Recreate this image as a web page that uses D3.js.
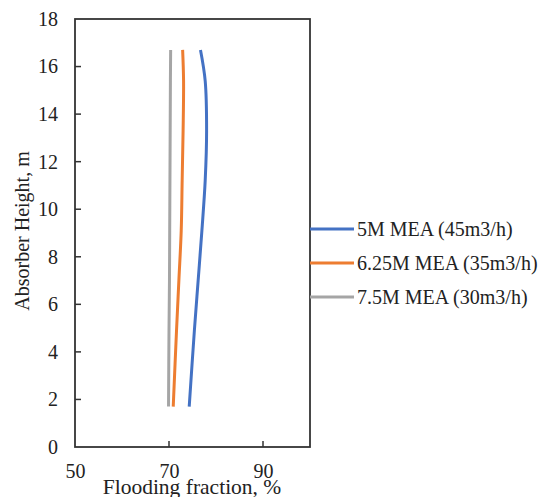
<!DOCTYPE html>
<html><head><meta charset="utf-8">
<script src="https://cdn.jsdelivr.net/npm/d3@7"></script>
<style>body{margin:0;background:#fff}svg{display:block}</style>
</head><body>
<svg id="c" width="541" height="497"></svg>
<script>
const heights = [1.7, 4.9, 7.0, 9.1, 11.2, 13.3, 15.4, 16.7];
const blue = [74.3, 75.4, 76.2, 77.0, 77.7, 78.0, 77.7, 76.7];
const orange = [70.9, 71.6, 72.1, 72.6, 72.8, 73.0, 73.1, 72.9];
const gray = [69.9, 70.0, 70.1, 70.15, 70.2, 70.25, 70.3, 70.35];
const seriesNames = ["5M MEA (45m3/h)", "6.25M MEA (35m3/h)", "7.5M MEA (30m3/h)"];
const colors = ["#4472C4", "#ED7D31", "#A5A5A5"];
const xTicks = [50, 70, 90];
const yTicks = [0, 2, 4, 6, 8, 10, 12, 14, 16, 18];

const svg = d3.select("#c");
const m = {l: 75, r: 310, t: 19, b: 447};
const x = d3.scaleLinear().domain([50, 100]).range([m.l, m.r]);
const y = d3.scaleLinear().domain([0, 18]).range([m.b, m.t]);
const font = "'Liberation Serif', 'Times New Roman', serif";
const axisColor = "#333";
const textColor = "#222";

// box
svg.append("rect").attr("x", m.l).attr("y", m.t).attr("width", m.r - m.l).attr("height", m.b - m.t)
  .attr("fill", "none").attr("stroke", axisColor).attr("stroke-width", 1.8);

// y axis (labels), inward ticks drawn separately
const ya = svg.append("g").attr("transform", `translate(${m.l},0)`)
  .call(d3.axisLeft(y).tickValues(yTicks).tickSize(0).tickPadding(17));
ya.select(".domain").remove();
ya.selectAll("text").attr("font-family", font).attr("font-size", 20).attr("fill", textColor);
svg.selectAll(".yt").data(yTicks.filter(d => d > 0 && d < 18)).enter().append("line")
  .attr("x1", m.l).attr("x2", m.l + 6).attr("y1", d => y(d)).attr("y2", d => y(d))
  .attr("stroke", axisColor).attr("stroke-width", 1.5);

// x axis (labels), inward ticks
const xa = svg.append("g").attr("transform", `translate(0,${m.b})`)
  .call(d3.axisBottom(x).tickValues(xTicks).tickSize(0).tickPadding(17));
xa.select(".domain").remove();
xa.selectAll("text").attr("font-family", font).attr("font-size", 20).attr("fill", textColor);
svg.selectAll(".xt").data(xTicks.filter(d => d > 50)).enter().append("line")
  .attr("x1", d => x(d)).attr("x2", d => x(d)).attr("y1", m.b).attr("y2", m.b - 6)
  .attr("stroke", axisColor).attr("stroke-width", 1.5);

// titles
svg.append("text").attr("x", 192).attr("y", 494).attr("text-anchor", "middle")
  .attr("font-family", font).attr("font-size", 21.5).attr("fill", textColor).text("Flooding fraction, %");
svg.append("text").attr("transform", "translate(29,231) rotate(-90)").attr("text-anchor", "middle")
  .attr("font-family", font).attr("font-size", 20).attr("fill", textColor).text("Absorber Height, m");

// lines
const data = [blue, orange, gray];
const line = d3.line().x(d => x(d[0])).y(d => y(d[1])).curve(d3.curveCatmullRom);
data.forEach((s, i) => {
  svg.append("path").datum(s.map((v, j) => [v, heights[j]]))
    .attr("d", line).attr("fill", "none").attr("stroke", colors[i]).attr("stroke-width", 3);
});

// legend
const legY = [229, 263, 297];
seriesNames.forEach((n, i) => {
  svg.append("line").attr("x1", m.r).attr("x2", 354).attr("y1", legY[i]).attr("y2", legY[i])
    .attr("stroke", colors[i]).attr("stroke-width", 3);
  svg.append("text").attr("x", 357).attr("y", legY[i] + 6.5).attr("font-family", font)
    .attr("font-size", 20).attr("fill", textColor).text(n);
});
</script>
</body></html>
